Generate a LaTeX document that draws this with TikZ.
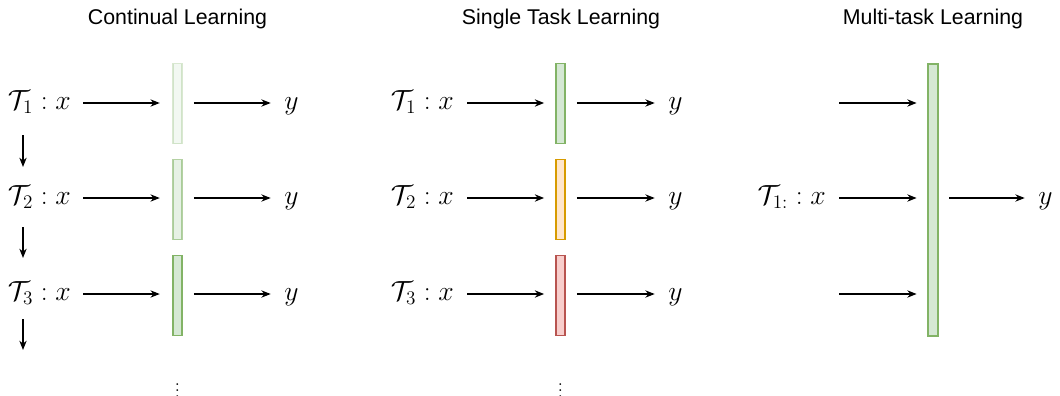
\documentclass[tikz,border=0pt]{standalone}
\usepackage{fontspec}
\setsansfont{Liberation Sans}
\usetikzlibrary{arrows.meta}
\definecolor{gfill}{HTML}{D5E8D4}
\definecolor{gdraw}{HTML}{82B366}
\definecolor{ofill}{HTML}{FFE6CC}
\definecolor{odraw}{HTML}{D79B00}
\definecolor{rfill}{HTML}{F8CECC}
\definecolor{rdraw}{HTML}{B85450}
\newcommand\myvdots{\vbox{\baselineskip=4.5pt\lineskiplimit=-10pt\hbox{.}\hbox{.}\hbox{.}}}
\begin{document}
\begin{tikzpicture}[x=0.75pt,y=-0.75pt,
  lbl/.style={inner sep=0pt,font=\fontsize{20}{24}\selectfont},
  ttl/.style={inner sep=0pt,font=\sffamily\fontsize{16}{19}\selectfont},
  arr/.style={-{Stealth[length=7pt,width=5.5pt]}, line width=0.9pt},
  bar/.style={draw, line width=1.4pt, inner sep=0pt, minimum width=7.2pt, minimum height=60pt},
  gbar/.style={bar, draw=gdraw, fill=gfill},
  obar/.style={bar, draw=odraw, fill=ofill},
  rbar/.style={bar, draw=rdraw, fill=rfill},
  dotsn/.style={inner sep=0pt,font=\fontsize{14}{16}\selectfont}
]
\useasboundingbox (0,0) rectangle (1060,396);
% row coordinates
\coordinate (r1) at (0,103);
\coordinate (r2) at (0,198);
\coordinate (r3) at (0,294);

% titles
\node[ttl] (tcl) at (177.5,19) {Continual Learning};
\node[ttl] (tst) at (561,19) {Single Task Learning};
\node[ttl] (tmt) at (933,19) {Multi-task Learning};

% ---------- Continual learning ----------
\node[lbl, anchor=base east] (c1) at (71,109.5) {$\mathcal{T}_1 : x$};
\node[lbl, anchor=base east] (c2) at (71,204.5) {$\mathcal{T}_2 : x$};
\node[lbl, anchor=base east] (c3) at (71,300.5) {$\mathcal{T}_3 : x$};
\node[gbar, opacity=0.3] (cb1) at (177.5,103.5) {};
\node[gbar, opacity=0.6] (cb2) at (177.5,199.5) {};
\node[gbar] (cb3) at (177.5,295.5) {};
\node[lbl, anchor=base west] (cy1) at (284,109.5) {$y$};
\node[lbl, anchor=base west] (cy2) at (284,204.5) {$y$};
\node[lbl, anchor=base west] (cy3) at (284,300.5) {$y$};
\foreach \i in {1,2,3}{
  \draw[arr, shorten <=9pt, shorten >=9pt] (c\i.east |- r\i) -- (cb\i.west |- r\i);
  \draw[arr, shorten <=8pt, shorten >=10pt] (cb\i.east |- r\i) -- (cy\i.west |- r\i);
}
\coordinate (d1s) at (23,135); \coordinate (d1e) at (23,167);
\coordinate (d2s) at (23,227); \coordinate (d2e) at (23,258);
\coordinate (d3s) at (23,319); \coordinate (d3e) at (23,350);
\draw[arr] (d1s) -- (d1e);
\draw[arr] (d2s) -- (d2e);
\draw[arr] (d3s) -- (d3e);
\node[dotsn] (cdots) at (177.5,390.5) {\myvdots};

% ---------- Single task learning ----------
\node[lbl, anchor=base east] (s1) at (454,109.5) {$\mathcal{T}_1 : x$};
\node[lbl, anchor=base east] (s2) at (454,204.5) {$\mathcal{T}_2 : x$};
\node[lbl, anchor=base east] (s3) at (454,300.5) {$\mathcal{T}_3 : x$};
\node[gbar] (sb1) at (560.5,103.5) {};
\node[obar] (sb2) at (560.5,199.5) {};
\node[rbar] (sb3) at (560.5,295.5) {};
\node[lbl, anchor=base west] (sy1) at (668,109.5) {$y$};
\node[lbl, anchor=base west] (sy2) at (668,204.5) {$y$};
\node[lbl, anchor=base west] (sy3) at (668,300.5) {$y$};
\foreach \i in {1,2,3}{
  \draw[arr, shorten <=10pt, shorten >=8pt] (s\i.east |- r\i) -- (sb\i.west |- r\i);
  \draw[arr, shorten <=8pt, shorten >=10pt] (sb\i.east |- r\i) -- (sy\i.west |- r\i);
}
\node[dotsn] (sdots) at (560.5,390.5) {\myvdots};

% ---------- Multi-task learning ----------
\node[gbar, minimum height=204pt] (mb) at (933,200) {};
\node[lbl, anchor=base east] (m2) at (826,204.5) {$\mathcal{T}_{1:} : x$};
\coordinate (m1) at (839,103);
\coordinate (m3) at (839,294);
\node[lbl, anchor=base west] (my) at (1038,204.5) {$y$};
\draw[arr, shorten >=8pt] (m1) -- (mb.west |- r1);
\draw[arr, shorten <=10pt, shorten >=8pt] (m2.east |- r2) -- (mb.west |- r2);
\draw[arr, shorten >=8pt] (m3) -- (mb.west |- r3);
\draw[arr, shorten <=8pt, shorten >=10pt] (mb.east |- r2) -- (my.west |- r2);
\end{tikzpicture}
\end{document}
